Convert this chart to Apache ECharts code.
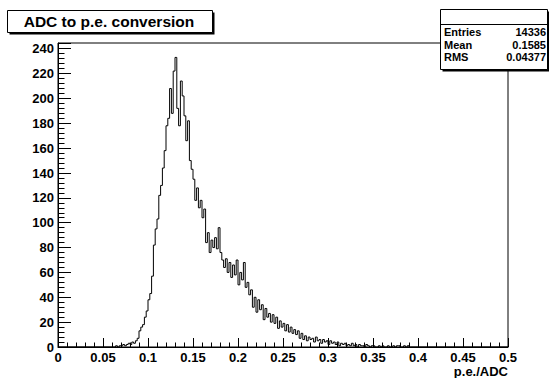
<!DOCTYPE html>
<html>
<head>
<meta charset="utf-8">
<script src="https://cdn.jsdelivr.net/npm/echarts@6/dist/echarts.min.js"></script>
<style>
  html, body { margin: 0; padding: 0; background: #fff; }
  #chart { width: 549px; height: 378px; }
</style>
</head>
<body>
<div id="chart"></div>
<script>
// histogram: bins of width 0.002 starting at firstBin, all other bins are empty
const firstBin = 0.064
const binWidth = 0.002
const counts = [
  1, 0, 1, 1, 2, 1, 2, 3, 2, 4,
  3, 5, 7, 13, 16, 18, 24, 29, 38, 43,
  57, 82, 95, 103, 122, 130, 144, 158, 178, 184,
  208, 188, 222, 233, 192, 178, 214, 202, 186, 166,
  182, 150, 143, 135, 118, 128, 112, 118, 104, 111,
  84, 92, 76, 86, 80, 88, 79, 96, 76, 70,
  64, 71, 60, 68, 56, 66, 58, 70, 50, 60,
  54, 68, 48, 52, 42, 46, 32, 40, 28, 38,
  30, 34, 22, 31, 24, 27, 20, 26, 19, 24,
  15, 21, 16, 19, 13, 18, 12, 16, 11, 14,
  10, 13, 7, 11, 6, 9, 5, 8, 6, 7,
  4, 8, 5, 6, 3, 6, 4, 5, 2, 5,
  3, 4, 2, 4, 1, 3, 2, 3, 1, 2,
  1, 3, 1, 2, 0, 2, 1, 1, 0, 2,
  1, 0, 1, 1, 0, 0, 1, 0, 1, 0,
  0, 1, 0, 0, 1, 0, 1, 1, 0, 0,
  1, 0, 1, 0
]
const xRange = [0, 0.5]
const yMax = 244.6
const statsLabels = ['Entries', 'Mean', 'RMS']
const statsValues = ['14336', '0.1585', '0.04377']
const titleText = 'ADC to p.e. conversion'
const xTitle = 'p.e./ADC'

const FONT = "'Liberation Sans', Arial, Helvetica, sans-serif"

// step points: x = lower edge of each bin
const points = [[xRange[0], 0]]
counts.forEach((c, i) => {
  points.push([+(firstBin + i * binWidth).toFixed(3), c])
})
points.push([+(firstBin + counts.length * binWidth).toFixed(3), 0])
points.push([xRange[1], 0])

const labelStyle = { color: '#000', fontFamily: FONT, fontWeight: 'bold', fontSize: 13 }

const statsGraphics = []
statsLabels.forEach((name, i) => {
  const y = 32 + i * 12.5
  statsGraphics.push({
    type: 'text', x: 444, y: y,
    style: { text: name, fill: '#000', font: 'bold 11px ' + FONT, textAlign: 'left', textVerticalAlign: 'middle' }
  })
  statsGraphics.push({
    type: 'text', x: 546, y: y,
    style: { text: statsValues[i], fill: '#000', font: 'bold 11px ' + FONT, textAlign: 'right', textVerticalAlign: 'middle' }
  })
})

const option = {
  animation: false,
  backgroundColor: '#fff',
  grid: {
    left: 58, top: 43, width: 450, height: 304,
    show: true, borderColor: '#000', borderWidth: 1, backgroundColor: 'transparent'
  },
  xAxis: {
    type: 'value', min: xRange[0], max: xRange[1], interval: 0.05,
    axisLine: { show: true, onZero: false, lineStyle: { color: '#000', width: 1 } },
    axisTick: { show: true, inside: true, length: 9, lineStyle: { color: '#000' } },
    minorTick: { show: true, splitNumber: 5, length: 4.5, lineStyle: { color: '#000' } },
    splitLine: { show: false },
    axisLabel: Object.assign({ margin: 4, formatter: v => String(+v.toFixed(2)) }, labelStyle)
  },
  yAxis: [
    {
      type: 'value', min: 0, max: yMax, interval: 20, position: 'left',
      axisLine: { show: true, onZero: false, lineStyle: { color: '#000', width: 1 } },
      axisTick: { show: true, inside: true, length: 13, lineStyle: { color: '#000' } },
      splitLine: { show: false },
      axisLabel: Object.assign({ margin: 4, formatter: v => (v % 20 === 0 ? String(v) : '') }, labelStyle)
    },
    {
      // minor ticks every 4
      type: 'value', min: 0, max: yMax, interval: 4, position: 'left',
      axisLine: { show: false },
      axisTick: { show: true, inside: true, length: 6.5, lineStyle: { color: '#000' } },
      splitLine: { show: false },
      axisLabel: { show: false }
    }
  ],
  series: [{
    type: 'line',
    step: 'end',
    showSymbol: false,
    symbol: 'none',
    xAxisIndex: 0,
    yAxisIndex: 0,
    lineStyle: { color: '#000', width: 1 },
    data: points
  }],
  graphic: [
    // title box
    { type: 'rect', shape: { x: 9.5, y: 12.5, width: 205, height: 22 }, style: { fill: '#000' } },
    { type: 'rect', shape: { x: 7.5, y: 10.5, width: 205, height: 22 }, style: { fill: '#fff', stroke: '#000', lineWidth: 1 } },
    { type: 'text', x: 109, y: 21.5, style: { text: titleText, fill: '#000', font: 'bold 15.5px ' + FONT, textAlign: 'center', textVerticalAlign: 'middle' } },
    // stats box
    { type: 'rect', shape: { x: 442.5, y: 11.5, width: 107, height: 60 }, style: { fill: '#000' } },
    { type: 'rect', shape: { x: 440.5, y: 9.5, width: 107, height: 60 }, style: { fill: '#fff', stroke: '#000', lineWidth: 1 } },
    { type: 'line', shape: { x1: 440.5, y1: 24.5, x2: 547.5, y2: 24.5 }, style: { stroke: '#000', lineWidth: 1 } },
    ...statsGraphics,
    // x axis title
    { type: 'text', x: 508, y: 371, style: { text: xTitle, fill: '#000', font: 'bold 13px ' + FONT, textAlign: 'right', textVerticalAlign: 'middle' } }
  ]
}

const chart = echarts.init(document.getElementById('chart'), null, { renderer: 'svg' })
chart.setOption(option)
window.addEventListener('resize', () => chart.resize())
</script>
</body>
</html>
